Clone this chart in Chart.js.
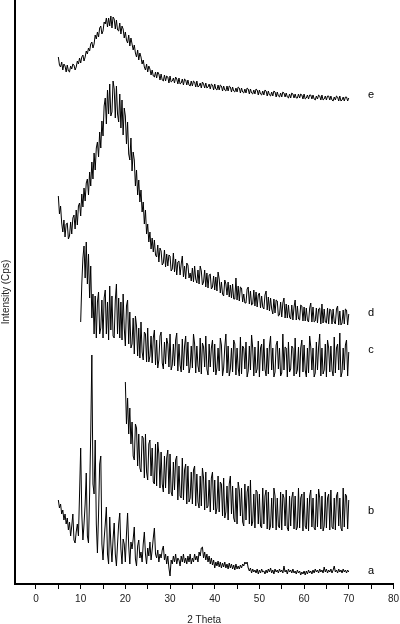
<!DOCTYPE html>
<html>
<head>
<meta charset="utf-8">
<script src="https://cdn.jsdelivr.net/npm/chart.js@4.4.1/dist/chart.umd.min.js"></script>
<style>
  html, body { margin: 0; padding: 0; background: #fff; overflow: hidden; }
  #wrap { width: 403px; height: 626px; }
</style>
</head>
<body>
<div id="wrap"><canvas id="xrd"></canvas></div>
<script>
// traces a..e (2 Theta grid = start + i * step)
const seriesNames = ['a', 'b', 'c', 'd', 'e'];
const seriesStart = [5, 20, 10, 5, 5];
const seriesStep = [0.25, 0.25, 0.25, 0.25, 0.25];

// four values per degree
const curveA = [
  84, 76, 80, 70,  74, 64, 70, 60,  66, 54, 62, 48,  58, 70, 44, 41,  52, 60, 48, 90,
  136, 70, 44, 60,  80, 111, 48, 41,  90, 150, 229, 100,  90, 144, 60, 31,  70, 120, 128, 40,
  24, 45, 60, 77,  30, 20, 67, 40,  22, 45, 61, 30,  18, 40, 60, 71,  35, 20, 45, 40,
  22, 50, 71, 38,  20, 42, 35, 45,  57, 25, 18, 38,  44, 26, 32, 22,  40, 52, 30, 20,
  36, 28, 42, 24,  34, 46, 56, 30,  26, 34, 22, 30,  26, 34, 38, 24,  30, 20, 28, 16,
  8, 24, 20, 28,  22, 30, 20, 26,  24, 18, 28, 22,  30, 21, 26, 20,  28, 22, 30, 20,
  26, 22, 30, 24,  28, 22, 32, 28,  36, 37, 26, 32,  24, 30, 22, 28,  20, 26, 19, 24,
  16, 22, 18, 23,  17, 22, 16, 21,  17, 22, 16, 20,  15, 21, 16, 20,  15, 19, 14, 20,
  15, 18, 15, 19,  16, 20, 18, 22,  20, 22, 16, 13,  16, 11, 15, 12,  14, 11, 15, 10,
  14, 11, 15, 12,  13, 10, 14, 11,  15, 12, 16, 11,  14, 10, 15, 12,  14, 11, 15, 12,
  14, 11, 18, 12,  14, 10, 15, 12,  14, 11, 15, 11,  13, 10, 14, 11,  13, 9, 12, 10,
  13, 9, 13, 10,  14, 11, 13, 10,  14, 11, 15, 12,  14, 11, 15, 12,  14, 11, 17, 12,
  15, 11, 14, 12,  15, 11, 14, 18,  12, 14, 11, 15,  12, 14, 11, 15,  12, 14, 11, 14,
  12
];

const curveB = [
  202, 160, 186, 150,  176, 140, 162, 128,  124, 160, 156, 118,  150, 116, 112, 148,  146, 106, 150, 112,
  104, 140, 144, 108,  136, 102, 100, 140,  98, 142, 130, 96,  132, 100, 92, 128,  96, 126, 134, 90,
  130, 92, 88, 122,  94, 124, 128, 84,  118, 88, 86, 126,  84, 114, 120, 80,  118, 82, 86, 112,
  80, 114, 118, 78,  110, 82, 76, 108,  78, 116, 106, 74,  112, 76, 78, 104,  72, 106, 112, 74,
  104, 70, 76, 108,  72, 102, 100, 68,  106, 66, 72, 98,  64, 100, 108, 70,  98, 66, 62, 96,
  60, 102, 94, 68,  96, 62, 58, 100,  64, 92, 98, 60,  104, 58, 62, 90,  56, 94, 92, 60,
  90, 58, 56, 96,  60, 88, 94, 55,  92, 54, 58, 86,  56, 96, 88, 54,  86, 58, 56, 92,
  54, 90, 86, 58,  94, 56, 53, 88,  58, 86, 92, 55,  88, 54, 57, 96,  56, 86, 90, 53,
  92, 58, 55, 86,  53, 88, 94, 57,  86, 56, 54, 90,  57, 95, 86, 55,  88, 53, 58, 92,
  56, 86, 90, 54,  94, 57, 55, 86,  54, 88, 92, 58,  86, 56, 53, 96,  57, 90, 88, 55,
  84
];

const curveC = [
  262, 300, 326, 338,  306, 342, 300, 330,  286, 318, 266, 290,  250, 288, 246, 282,  292, 250, 256, 284,
  246, 286, 294, 250,  282, 244, 298, 254,  288, 248, 246, 284,  300, 250, 286, 246,  282, 244, 290, 256,
  238, 278, 284, 240,  272, 236, 240, 266,  230, 268, 258, 228,  256, 226, 262, 232,  224, 252, 250, 222,
  256, 222, 228, 248,  221, 246, 254, 219,  244, 216, 224, 248,  252, 221, 215, 242,  220, 246, 240, 217,
  250, 214, 219, 240,  218, 244, 251, 213,  240, 219, 212, 245,  214, 238, 248, 218,  242, 211, 217, 238,
  216, 250, 240, 211,  238, 218, 212, 246,  210, 241, 237, 217,  248, 215, 209, 240,  217, 236, 244, 212,
  240, 209, 216, 236,  213, 246, 239, 208,  216, 237, 250, 211,  238, 208, 215, 236,  212, 244, 240, 209,
  236, 216, 208, 247,  210, 238, 236, 215,  242, 207, 213, 238,  214, 249, 236, 208,  237, 211, 215, 243,
  207, 236, 240, 213,  245, 215, 208, 236,  210, 238, 248, 214,  236, 207, 212, 239,  243, 215, 236, 208,
  211, 250, 214, 237,  236, 207, 242, 212,  215, 238, 236, 208,  246, 210, 214, 237,  207, 236, 244, 212,
  239, 214, 207, 236,  211, 248, 237, 214,  236, 207, 211, 242,  214, 237, 250, 208,  236, 210, 214, 240,
  207, 244, 236, 212,  238, 214, 208, 247,  211, 236, 240, 214,  251, 207, 212, 236,  214, 239, 244, 208,
  232
];

const curveD = [
  388, 370, 378, 361,  352, 364, 347, 360,  361, 345, 348, 362,  350, 366, 369, 355,  374, 359, 378, 381,
  368, 390, 377, 396,  383, 401, 405, 389,  412, 398, 422, 405,  431, 414, 436, 442,  427, 452, 436, 463,
  448, 478, 486, 460,  494, 470, 500, 468,  472, 503, 495, 466,  498, 470, 462, 490,  456, 484, 449, 476,
  468, 440, 462, 430,  424, 446, 413, 432,  424, 398, 414, 389,  404, 382, 394, 372,  382, 360, 374, 350,
  360, 342, 352, 335,  346, 332, 344, 329,  327, 339, 322, 336,  333, 319, 321, 334,  317, 330, 318, 329,
  328, 313, 315, 331,  312, 325, 309, 322,  323, 309, 320, 328,  307, 318, 305, 321,  319, 306, 311, 303,
  316, 302, 318, 305,  301, 314, 300, 318,  313, 299, 302, 314,  297, 311, 296, 309,  310, 295, 297, 308,
  294, 307, 293, 312,  305, 291, 302, 290,  288, 304, 300, 289,  302, 287, 299, 286,  300, 285, 285, 306,
  284, 298, 283, 297,  296, 282, 290, 281,  281, 295, 297, 280,  293, 279, 280, 294,  278, 292, 277, 289,
  291, 276, 288, 277,  275, 289, 293, 274,  287, 273, 286, 275,  270, 285, 271, 284,  283, 268, 269, 282,
  267, 281, 286, 266,  280, 266, 279, 267,  265, 279, 264, 277,  284, 264, 278, 265,  264, 279, 278, 263,
  277, 263, 276, 264,  262, 276, 281, 262,  277, 262, 263, 276,  261, 275, 276, 260,  280, 261, 275, 262,
  261, 276, 260, 275,  274, 260, 275, 262,  260, 275, 278, 259,  273, 259, 261, 274,  260, 275, 274, 259,
  270
];

const curveE = [
  527, 519, 517, 522,  514, 520, 518, 512,  519, 513, 512, 518,  515, 520, 519, 514,  517, 523, 520, 526,
  521, 527, 529, 523,  527, 533, 530, 536,  533, 540, 542, 536,  540, 549, 545, 552,  547, 556, 558, 550,
  553, 562, 560, 566,  557, 566, 558, 568,  556, 567, 565, 555,  564, 554, 553, 561,  550, 558, 555, 546,
  552, 544, 541, 549,  538, 546, 540, 534,  539, 531, 527, 534,  524, 531, 527, 520,  524, 517, 514, 520,
  512, 518, 515, 509,  514, 508, 507, 512,  506, 512, 510, 504,  510, 504, 503, 509,  503, 508, 507, 501,
  508, 502, 503, 506,  501, 507, 505, 500,  506, 500, 501, 505,  499, 505, 504, 499,  504, 499, 498, 503,
  498, 503, 502, 497,  503, 497, 498, 501,  496, 502, 500, 496,  501, 496, 497, 500,  495, 500, 499, 494,
  500, 495, 494, 499,  494, 499, 498, 493,  498, 494, 493, 498,  493, 498, 497, 492,  497, 493, 492, 496,
  492, 497, 496, 491,  496, 492, 491, 495,  491, 496, 495, 490,  495, 491, 490, 494,  490, 495, 494, 489,
  494, 490, 489, 493,  489, 494, 493, 488,  493, 489, 488, 492,  488, 493, 492, 487,  492, 488, 487, 491,
  487, 492, 491, 487,  491, 487, 486, 490,  486, 491, 490, 486,  490, 486, 486, 490,  486, 490, 489, 485,
  490, 485, 486, 489,  485, 489, 489, 485,  489, 485, 484, 488,  485, 489, 488, 484,  489, 484, 485, 488,
  484, 488, 488, 484,  488, 484, 483, 487,  484, 488, 487, 483,  488, 483, 484, 487,  483, 487, 487, 483,
  486
];

// where the letters a..e sit (2 Theta, intensity)
const labelX = 75;
const labelY = [13, 73, 234, 271, 489];

Chart.defaults.font.family = "'Liberation Sans', Arial, sans-serif";
Chart.defaults.font.size = 10;
Chart.defaults.color = '#000';

const curves = [curveA, curveB, curveC, curveD, curveE];
const datasets = curves.map((vals, k) => ({
  label: seriesNames[k],
  data: vals.map((v, i) => ({ x: seriesStart[k] + i * seriesStep[k], y: v })),
  borderColor: '#000',
  borderWidth: 1,
  pointRadius: 0,
  fill: false,
  tension: 0,
}));

const curveLabels = {
  id: 'curveLabels',
  afterDatasetsDraw(chart) {
    const { ctx, scales: { x, y } } = chart;
    ctx.save();
    ctx.font = "11px 'Liberation Sans', Arial, sans-serif";
    ctx.fillStyle = '#000';
    ctx.textAlign = 'center';
    ctx.textBaseline = 'middle';
    seriesNames.forEach((n, i) => {
      ctx.fillText(n, x.getPixelForValue(labelX), y.getPixelForValue(labelY[i]));
    });
    ctx.restore();
  }
};

new Chart(document.getElementById('xrd'), {
  type: 'line',
  data: { datasets },
  options: {
    responsive: true,
    maintainAspectRatio: false,
    animation: false,
    layout: { padding: 0 },
    plugins: { legend: { display: false }, tooltip: { enabled: false } },
    scales: {
      x: {
        type: 'linear',
        min: -4.7,
        max: 80,
        border: { display: true, color: '#000', width: 2 },
        grid: { display: true, drawOnChartArea: false, drawTicks: true, tickLength: 5, color: '#000', lineWidth: 1 },
        ticks: {
          stepSize: 5,
          includeBounds: false,
          autoSkip: false,
          maxRotation: 0,
          padding: 4,
          color: '#222',
          callback: v => (v % 10 === 0 ? v : ''),
        },
        afterBuildTicks: s => { s.ticks = s.ticks.filter(t => Math.abs(t.value % 5) < 1e-9); },
        title: { display: true, text: '2 Theta', color: '#222', padding: { top: 5, bottom: 0 } },
      },
      y: {
        min: 0,
        max: 584,
        border: { display: true, color: '#000', width: 2 },
        grid: { display: false, drawTicks: false },
        ticks: { display: false },
        title: { display: true, text: 'Intensity (Cps)', color: '#222', padding: { top: 0, bottom: 3 } },
      },
    },
  },
  plugins: [curveLabels],
});
</script>
</body>
</html>
